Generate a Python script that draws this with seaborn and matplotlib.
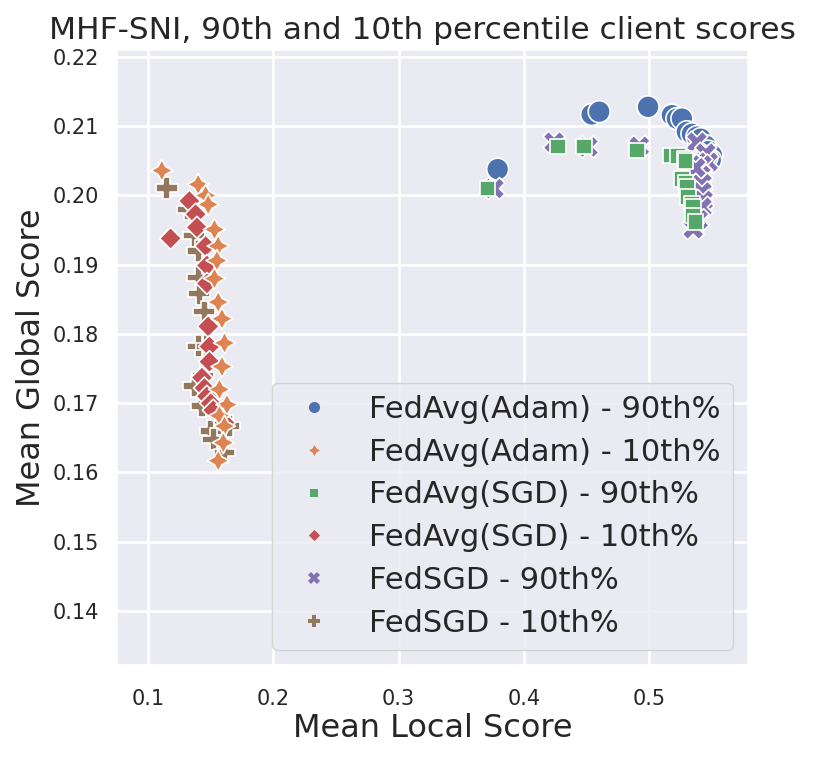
import matplotlib
matplotlib.use("Agg")
import matplotlib.pyplot as plt
from matplotlib.lines import Line2D
import pandas as pd
import seaborn as sns

# series labels, in legend order
labels = ["FedAvg(Adam) - 90th%", "FedAvg(Adam) - 10th%",
          "FedAvg(SGD) - 90th%", "FedAvg(SGD) - 10th%",
          "FedSGD - 90th%", "FedSGD - 10th%"]
# order the series were stacked in the data (later ones drawn on top)
draw_order = [0, 4, 2, 5, 3, 1]

# mean local score / mean global score per round
adam90_x = [0.379, 0.454, 0.460, 0.499, 0.518, 0.522, 0.526, 0.530,
            0.534, 0.538, 0.541, 0.545, 0.547, 0.550, 0.549, 0.546]
adam90_y = [0.2038, 0.2117, 0.2121, 0.2128, 0.2116, 0.2111, 0.2111, 0.2092,
            0.2089, 0.2085, 0.2082, 0.2072, 0.2064, 0.2058, 0.2051, 0.2055]

adam10_x = [0.111, 0.140, 0.146, 0.148, 0.153, 0.156, 0.155, 0.153, 0.156,
            0.159, 0.161, 0.159, 0.157, 0.163, 0.157, 0.161, 0.160, 0.156]
adam10_y = [0.2036, 0.2016, 0.2000, 0.1987, 0.1951, 0.1927, 0.1906, 0.1880, 0.1846,
            0.1822, 0.1787, 0.1753, 0.1720, 0.1698, 0.1682, 0.1667, 0.1643, 0.1617]

sgd90_x = [0.371, 0.427, 0.448, 0.490, 0.517, 0.523, 0.528, 0.529,
           0.526, 0.529, 0.530, 0.531, 0.534, 0.535, 0.535, 0.537]
sgd90_y = [0.2010, 0.2071, 0.2071, 0.2065, 0.2058, 0.2057, 0.2053, 0.2050,
           0.2024, 0.2019, 0.2012, 0.1998, 0.1988, 0.1983, 0.1971, 0.1962]

sgd10_x = [0.118, 0.133, 0.138, 0.139, 0.146, 0.147, 0.147, 0.148,
           0.149, 0.149, 0.143, 0.145, 0.147, 0.150, 0.152, 0.161]
sgd10_y = [0.1938, 0.1992, 0.1973, 0.1954, 0.1927, 0.1899, 0.1873, 0.1811,
           0.1782, 0.1760, 0.1737, 0.1722, 0.1710, 0.1700, 0.1690, 0.1672]

fedsgd90_x = [0.376, 0.424, 0.451, 0.492, 0.538, 0.545, 0.547, 0.542,
              0.541, 0.542, 0.542, 0.543, 0.542, 0.539, 0.535, 0.537]
fedsgd90_y = [0.2010, 0.2077, 0.2070, 0.2071, 0.2077, 0.2061, 0.2048, 0.2044,
              0.2029, 0.2017, 0.2005, 0.1993, 0.1983, 0.1965, 0.1952, 0.2040]

fedsgd10_x = [0.115, 0.132, 0.137, 0.140, 0.140, 0.141, 0.145, 0.140,
              0.147, 0.144, 0.137, 0.143, 0.150, 0.152, 0.165, 0.161]
fedsgd10_y = [0.2011, 0.1980, 0.1942, 0.1920, 0.1882, 0.1858, 0.1832, 0.1782,
              0.1782, 0.1740, 0.1725, 0.1696, 0.1660, 0.1648, 0.1667, 0.1629]

series = [(adam90_x, adam90_y), (adam10_x, adam10_y), (sgd90_x, sgd90_y),
          (sgd10_x, sgd10_y), (fedsgd90_x, fedsgd90_y), (fedsgd10_x, fedsgd10_y)]

frames = []
for k in draw_order:
    xs, ys = series[k]
    frames.append(pd.DataFrame({"local": xs, "global": ys, "label": labels[k]}))
df = pd.concat(frames, ignore_index=True)

sns.set_theme(style="darkgrid", rc={"grid.linewidth": 1.9})
palette = dict(zip(labels, sns.color_palette("deep", 6)))
marker_list = ["o", (4, 1, 0), (4, 0, 45), (4, 0, 0), "X", "P"]
markers = dict(zip(labels, marker_list))

fig = plt.figure(figsize=(8.31, 7.57), dpi=100)
ax = fig.add_axes([0.1412, 0.1215, 0.7593, 0.8124])

sns.scatterplot(data=df, x="local", y="global", hue="label", style="label",
                hue_order=labels, style_order=labels, palette=palette,
                markers=markers, s=250, linewidth=1.2, edgecolor="white",
                legend=False, ax=ax)

ax.set_xlim(0.0755, 0.579)
ax.set_ylim(0.1322, 0.221)
ax.set_xticks([0.1, 0.2, 0.3, 0.4, 0.5])
ax.set_yticks([0.14, 0.15, 0.16, 0.17, 0.18, 0.19, 0.20, 0.21, 0.22])
ax.tick_params(axis="x", labelsize=15, pad=11)
ax.tick_params(axis="y", labelsize=15, pad=7)

ax.set_xlabel("Mean Local Score", fontsize=23, labelpad=3)
ax.set_ylabel("Mean Global Score", fontsize=23, labelpad=4)
ax.set_title("MHF-SNI, 90th and 10th percentile client scores",
             fontsize=22.5, pad=8, x=0.483)

handles = [Line2D([], [], linestyle="", marker=markers[lab], color=palette[lab],
                  markersize=8, markeredgewidth=0) for lab in labels]
ax.legend(handles, labels, loc="lower right", fontsize=22, labelspacing=0.45)

fig.savefig("out.png", dpi=100)
